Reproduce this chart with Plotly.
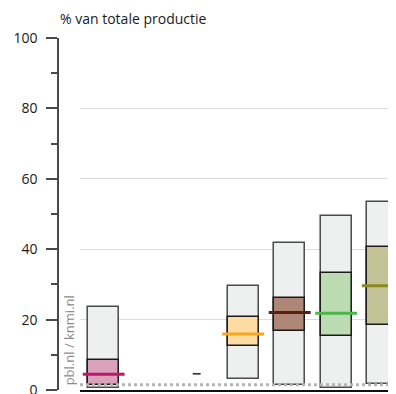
import plotly.graph_objects as go

# ---- data ----
positions = [0, 1, 2, 3, 4, 5, 6]
outer_low = [0.5, None, None, 3.2, 1.4, 0.7, 1.8]
outer_high = [23.7, None, None, 29.6, 41.9, 49.3, 53.3]
inner_low = [1.5, None, None, 12.5, 16.8, 15.3, 18.5]
inner_high = [8.5, None, None, 20.8, 26.0, 33.3, 40.5]
median = [4.5, None, 4.6, 15.9, 22.0, 21.8, 29.6]
reference_level = 1.5
y_ticks = [0, 20, 40, 60, 80, 100]

# ---- styles ----
fill_colors = ["#dba3bb", None, None, "#fddba2", "#ae8778", "#bbdcb0", "#c3c397"]
median_colors = ["#c0166f", None, "#222222", "#f8a71c", "#5b1f0f", "#4bb74b", "#8a8b1e"]
median_half = [0.45, None, 0.085, 0.45, 0.45, 0.45, 0.45]
median_width = [3, None, 1.5, 3, 3, 3, 3]
bar_w = 0.667
font = "Open Sans"

fig = go.Figure()

fig.add_trace(go.Bar(
    x=positions,
    base=outer_low,
    y=[(h - l) if h is not None else None for h, l in zip(outer_high, outer_low)],
    width=bar_w,
    marker=dict(color="#eef0ef", line=dict(color="#4a4a4a", width=1.5)),
    hoverinfo="skip", showlegend=False,
))
fig.add_trace(go.Bar(
    x=positions,
    base=inner_low,
    y=[(h - l) if h is not None else None for h, l in zip(inner_high, inner_low)],
    width=bar_w,
    marker=dict(color=[c if c else "rgba(0,0,0,0)" for c in fill_colors],
                line=dict(color="#1a1a1a", width=1.5)),
    hoverinfo="skip", showlegend=False,
))

for p, m, c, hw, lw in zip(positions, median, median_colors, median_half, median_width):
    if m is None:
        continue
    fig.add_trace(go.Scatter(
        x=[p - hw, p + hw], y=[m, m], mode="lines",
        line=dict(color=c, width=lw), hoverinfo="skip", showlegend=False,
    ))

fig.add_shape(type="line", xref="x domain", x0=0, x1=1, yref="y",
              y0=reference_level, y1=reference_level,
              line=dict(color="#b3b3b3", width=3, dash="dot"), layer="above")

fig.add_annotation(text="% van totale productie", xref="paper", yref="paper",
                   x=0, y=1, xanchor="left", yanchor="bottom", yshift=8,
                   showarrow=False, font=dict(family=font, size=14, color="#1a1a1a"))
fig.add_annotation(text="pbl.nl / knmi.nl", xref="paper", yref="y",
                   x=0.032, y=0.7, xanchor="center", yanchor="bottom",
                   textangle=-90, showarrow=False,
                   font=dict(family=font, size=13, color="#8c8c8c"))

fig.update_layout(
    width=396, height=394,
    margin=dict(l=50, r=8, t=30, b=12, autoexpand=False),
    paper_bgcolor="white", plot_bgcolor="white",
    barmode="overlay", bargap=0,
    font=dict(family=font),
    xaxis=dict(domain=[0.065, 1], range=[-0.51, 6.286], showgrid=False,
               zeroline=False, showticklabels=False, ticks="",
               showline=True, linecolor="#111111", linewidth=1.5),
    yaxis=dict(anchor="free", position=0, range=[0, 100],
               tickvals=y_ticks, ticktext=[str(v) for v in y_ticks],
               showgrid=True, gridcolor="#dddddd", gridwidth=1,
               zeroline=False, showline=True, linecolor="#4a4a4a", linewidth=1.5,
               ticks="outside", ticklen=11, tickwidth=1.5, tickcolor="#4a4a4a",
               ticklabelstandoff=6,
               tickfont=dict(family=font, size=14, color="#1a1a1a"),
               minor=dict(dtick=10, tick0=0, ticks="outside", ticklen=6,
                          tickwidth=1.5, tickcolor="#4a4a4a", showgrid=False)),
)

fig.write_html("out.html")
